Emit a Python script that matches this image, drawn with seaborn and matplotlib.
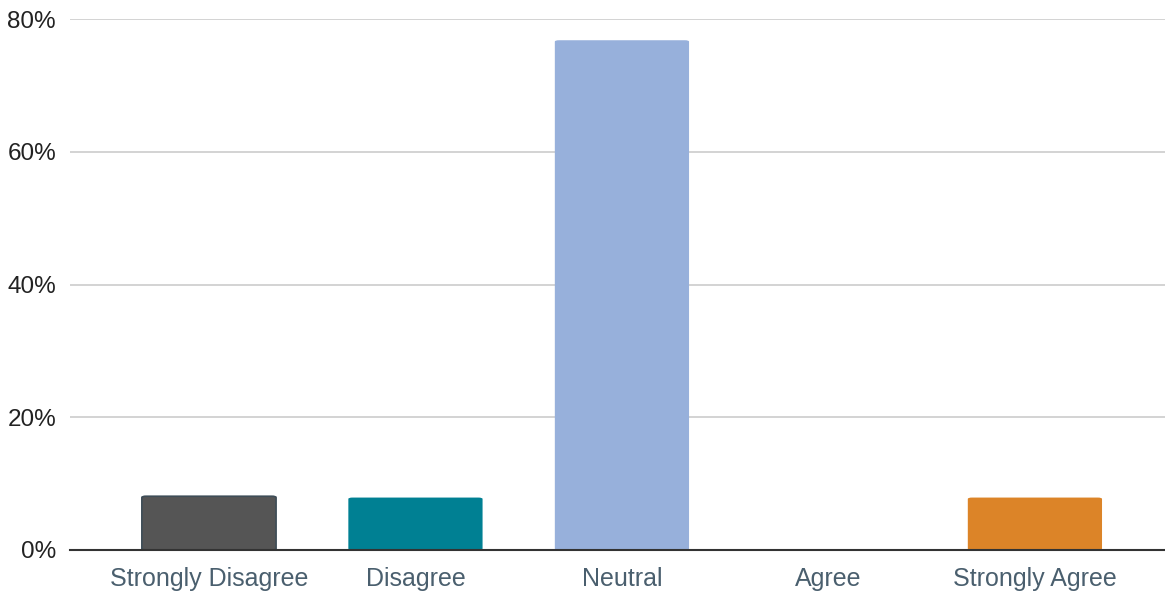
import matplotlib
matplotlib.use("Agg")
import matplotlib.pyplot as plt
import seaborn as sns
import pandas as pd
from matplotlib.patches import FancyBboxPatch
from matplotlib.ticker import FuncFormatter

categories = ["Strongly Disagree", "Disagree", "Neutral", "Agree", "Strongly Agree"]
values = [8.1, 7.9, 76.8, 0.0, 7.9]
colors = ["#555555", "#008093", "#97b0db", "#6b8fd1", "#dc8428"]
yticks = [0, 20, 40, 60, 80]

sns.set_theme(style="white")
plt.rcParams['font.family'] = ['Liberation Sans', 'DejaVu Sans']

df = pd.DataFrame({"cat": categories, "val": values})
fig = plt.figure(figsize=(11.65, 5.92), dpi=100)
ax = fig.add_axes([70/1165, 1-550/592, 1-70/1165, (550-19)/592])

sns.barplot(data=df, x="cat", y="val", hue="cat", palette=colors, order=categories,
            width=0.65, legend=False, ax=ax, saturation=1)

# replace bars with slightly rounded ones
for i, p in enumerate(list(ax.patches)):
    x, y, w, h = p.get_x(), p.get_y(), p.get_width(), p.get_height()
    if h <= 0:
        p.remove()
        continue
    fc = p.get_facecolor()
    ec = "#3e4d57" if i == 0 else fc
    lw = 1.2 if i == 0 else 0
    p.remove()
    rb = FancyBboxPatch((x, y), w, h, boxstyle="round,pad=0,rounding_size=0.02",
                        mutation_aspect=10, facecolor=fc, edgecolor=ec, linewidth=lw, zorder=3)
    ax.add_patch(rb)

ax.set_xlim(-0.673, 4.63)
ax.set_ylim(0, 80)
ax.set_yticks(yticks)
ax.yaxis.set_major_formatter(FuncFormatter(lambda v, _: f"{int(v)}%"))
ax.grid(axis="y", color="#cccccc", linewidth=1.2, zorder=0)
ax.set_axisbelow(True)
for s in ["top", "right", "left"]:
    ax.spines[s].set_visible(False)
ax.spines["bottom"].set_color("#333333")
ax.spines["bottom"].set_linewidth(1.5)
ax.spines["bottom"].set_zorder(4)
ax.set_xlabel("")
ax.set_ylabel("")
ax.tick_params(axis="y", length=0, pad=10, labelsize=17.5, labelcolor="#222222")
ax.tick_params(axis="x", length=0, pad=12, labelsize=18, labelcolor="#4a5f6e")

fig.savefig("out.png", dpi=100)
